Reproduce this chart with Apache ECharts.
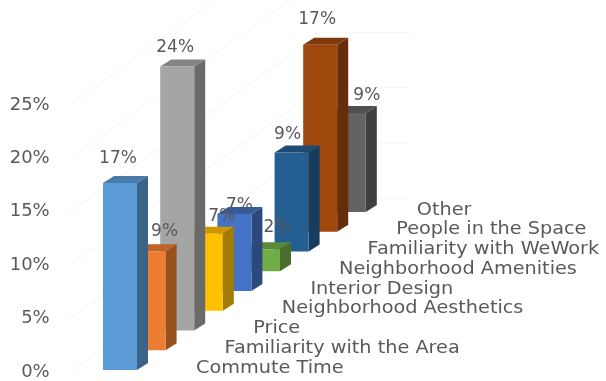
<!DOCTYPE html>
<html>
<head>
<meta charset="utf-8">
<style>html,body{margin:0;padding:0;background:#fff}#chart{width:606px;height:381px}</style>
<script src="https://cdn.jsdelivr.net/npm/echarts@6/dist/echarts.min.js"></script>
</head>
<body>
<div id="chart"></div>
<script>
const categories = ['Commute Time', 'Familiarity with the Area', 'Price', 'Neighborhood Aesthetics',
  'Interior Design', 'Neighborhood Amenities', 'Familiarity with WeWork', 'People in the Space', 'Other'];
const shares = [17, 9, 24, 7, 7, 2, 9, 17, 9];
const tickValues = [0, 5, 10, 15, 20, 25];
const barColors = ['#5B9BD5', '#ED7D31', '#A5A5A5', '#FFC000', '#4472C4', '#70AD47', '#255E91', '#9E480E', '#636363'];

// Oblique projection: each category steps back along the floor.
const ROW_RISE = 19.75, FACE_W = 34, DEPTH_X = 11, DEPTH_Y = 7, BASE_GAP = 2;
const WALL_RISE = 174, WALL_LEFT = -50, WALL_RUN = 252, WALL_BACK = 88;
const TEXT_COLOR = '#595959', TEXT_FAMILY = 'DejaVu Sans';
// Nudges that keep value labels clear of neighbouring bars.
const valueLabelNudgeX = [-2, 16, -2, 16, 5, 14, -4, -3, 18];
const valueLabelNudgeY = [-1, 3, 4, 6, 15, 1, 5, -2, 6];

function shade(hex, k) {
  const n = parseInt(hex.slice(1), 16);
  const c = [n >> 16, (n >> 8) & 255, n & 255].map(v => Math.round(v * k));
  return `rgb(${c.join(',')})`;
}

function renderBar(params, api) {
  const i = api.value(0);
  const base = api.coord([i, 0]);
  const top = api.coord([i, api.value(1)]);
  const rise = i * ROW_RISE + BASE_GAP;
  const x0 = base[0] - FACE_W / 2, x1 = x0 + FACE_W;
  const y0 = base[1] - rise, y1 = top[1] - rise;
  const color = barColors[i];
  const poly = (points, fill) => ({ type: 'polygon', shape: { points }, style: { fill } });
  return {
    type: 'group',
    children: [
      poly([[x1, y0], [x1 + DEPTH_X, y0 - DEPTH_Y], [x1 + DEPTH_X, y1 - DEPTH_Y], [x1, y1]], shade(color, 0.64)),
      poly([[x0, y1], [x1, y1], [x1 + DEPTH_X, y1 - DEPTH_Y], [x0 + DEPTH_X, y1 - DEPTH_Y]], shade(color, 0.8)),
      poly([[x0, y0], [x1, y0], [x1, y1], [x0, y1]], color)
    ]
  };
}

function renderValueLabel(params, api) {
  const i = api.value(0);
  const top = api.coord([i, api.value(1)]);
  const rise = i * ROW_RISE + BASE_GAP;
  return {
    type: 'text',
    x: top[0] + valueLabelNudgeX[i],
    y: top[1] - rise - DEPTH_Y - 16 + valueLabelNudgeY[i],
    style: {
      text: api.value(1) + '%', align: 'center', verticalAlign: 'middle',
      fontFamily: TEXT_FAMILY, fontSize: 17, fill: TEXT_COLOR
    }
  };
}

function renderCategoryLabel(params, api) {
  const i = api.value(0);
  const base = api.coord([i, 0]);
  const rise = i * ROW_RISE;
  return {
    type: 'text',
    x: base[0] + 76 - (i === categories.length - 1 ? 8 : 0),
    y: base[1] - rise - 4,
    scaleX: 1.07,
    style: {
      text: categories[i], align: 'left', verticalAlign: 'middle',
      fontFamily: TEXT_FAMILY, fontSize: 18, fill: TEXT_COLOR
    }
  };
}

function renderWallLine(params, api) {
  const p = api.coord([0, api.value(1)]);
  const sx = p[0] + WALL_LEFT, bx = sx + WALL_RUN, by = p[1] - WALL_RISE - api.value(1) * 0.34;
  return {
    type: 'polyline',
    shape: { points: [[sx, p[1]], [bx, by], [bx + WALL_BACK, by]] },
    style: { stroke: '#f4f4f4', lineWidth: 1, fill: 'none' }
  };
}

const rows = shares.map((v, i) => [i, v]);
const chart = echarts.init(document.getElementById('chart'));
chart.setOption({
  animation: false,
  backgroundColor: '#fff',
  grid: { left: 105.7, right: 242.9, top: 105, bottom: 9 },
  xAxis: { type: 'category', data: categories, show: false },
  yAxis: [
    {
      type: 'value', min: 0, max: 25, interval: 5,
      axisLine: { show: false }, axisTick: { show: false }, splitLine: { show: false },
      axisLabel: { formatter: '{value}%', margin: 56, color: TEXT_COLOR, fontFamily: TEXT_FAMILY, fontSize: 18 }
    },
    // Bars stand nearer the viewer than the axis wall, so their scale is slightly larger.
    { type: 'value', min: 0, max: 24.27, show: false, splitLine: { show: false } }
  ],
  series: [
    { type: 'custom', yAxisIndex: 0, z: 1, clip: false, renderItem: renderWallLine,
      data: tickValues.map(t => [0, t]), encode: { x: 0, y: 1 }, silent: true },
    // Drawn from the back row forward so nearer bars cover farther ones.
    { type: 'custom', yAxisIndex: 1, z: 2, clip: false, renderItem: renderBar,
      data: rows.slice().reverse(), encode: { x: 0, y: 1 } },
    { type: 'custom', yAxisIndex: 1, z: 3, clip: false, renderItem: renderValueLabel,
      data: rows, encode: { x: 0, y: 1 }, silent: true },
    { type: 'custom', yAxisIndex: 1, z: 3, clip: false, renderItem: renderCategoryLabel,
      data: rows, encode: { x: 0, y: 1 }, silent: true }
  ]
});
</script>
</body>
</html>
